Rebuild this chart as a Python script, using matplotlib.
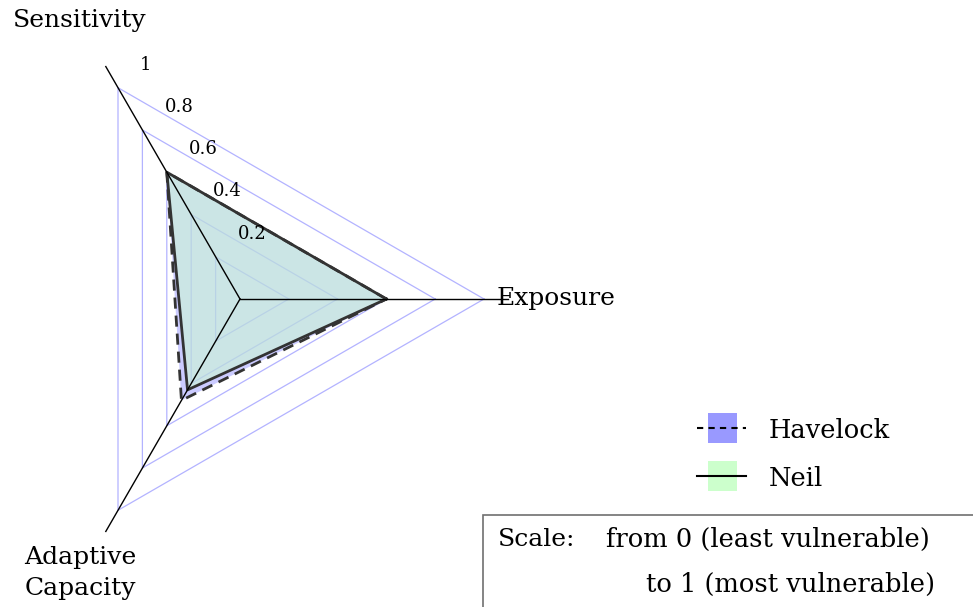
import numpy as np
import matplotlib
matplotlib.use("Agg")
import matplotlib.pyplot as plt
from matplotlib.patches import Rectangle
from matplotlib.lines import Line2D

# ---- data ----
axes_names = ["Exposure", "Sensitivity", "Adaptive\nCapacity"]
axis_angles_deg = [0, 120, 240]
havelock = [0.60, 0.60, 0.48]
neil = [0.60, 0.60, 0.43]
grid_levels = [0.2, 0.4, 0.6, 0.8, 1.0]
tick_labels = ["0.2", "0.4", "0.6", "0.8", "1"]

plt.rcParams["font.family"] = ["DejaVu Serif"]

W, H = 973, 607
fig = plt.figure(figsize=(W / 100, H / 100), dpi=100)
ax = fig.add_axes([0, 0, 1, 1])
cx, cy, scale = 240, 299, 244.0
ax.set_xlim(-cx / scale, (W - cx) / scale)
ax.set_ylim((cy - H) / scale, cy / scale)
ax.axis("off")

ang = np.deg2rad(axis_angles_deg)


def xy(vals):
    v = np.asarray(vals, dtype=float)
    x = v * np.cos(ang)
    y = v * np.sin(ang)
    return np.append(x, x[0]), np.append(y, y[0])


# grid triangles
grid_col = "#b3b3ff"
for lv in grid_levels:
    gx, gy = xy([lv] * 3)
    ax.plot(gx, gy, color=grid_col, lw=0.9, zorder=1)

# axis lines
for a in ang:
    ax.plot([0, 1.1 * np.cos(a)], [0, 1.1 * np.sin(a)], color="black", lw=1.0, zorder=4)

# data polygons
hx, hy = xy(havelock)
nx, ny = xy(neil)
ax.fill(hx, hy, color="#9999ff", alpha=0.5, lw=0, zorder=2)
ax.fill(nx, ny, color="#ccffcc", alpha=0.5, lw=0, zorder=2)
ax.plot(hx, hy, color="#333333", lw=2.0, ls=(0, (4, 2.5)), zorder=3)
ax.plot(nx, ny, color="#333333", lw=2.0, zorder=3)

# tick labels along sensitivity axis
sa = ang[1]
for lv, lab in zip(grid_levels, tick_labels):
    ax.annotate(lab, (lv * np.cos(sa), lv * np.sin(sa)), xytext=(22, 23),
                textcoords="offset pixels", ha="left", va="center", fontsize=13, zorder=5)

# axis labels
ax.annotate(axes_names[0], (1.0, 0), xytext=(13, 0), textcoords="offset pixels",
            ha="left", va="center", fontsize=18, xycoords="data")
fig.text(80 / W, 1 - 20 / H, axes_names[1], ha="center", va="center", fontsize=18)
fig.text(80 / W, 1 - 573 / H, axes_names[2], ha="center", va="center", fontsize=18,
         linespacing=1.45)

# legend (manual)
def fx(p):
    return p / W


def fy(p):
    return 1 - p / H


leg = [("Havelock", "#9999ff", (0, (3, 2.5)), 428),
       ("Neil", "#ccffcc", "-", 476)]
for name, col, ls, yc in leg:
    fig.add_artist(Rectangle((fx(708), fy(yc + 15)), fx(737) - fx(708), (30) / H,
                             transform=fig.transFigure, color=col, lw=0))
    fig.add_artist(Line2D([fx(697), fx(746)], [fy(yc), fy(yc)], transform=fig.transFigure,
                          color="black", lw=1.5, ls=ls))
    fig.text(fx(769), fy(yc + 2), name, ha="left", va="center", fontsize=18.5)

# scale box
fig.add_artist(Rectangle((fx(483), -0.05), 0.6, fy(515) + 0.05, transform=fig.transFigure,
                         fill=False, edgecolor="#707070", lw=1.2))
fig.text(fx(498), fy(539), "Scale:", ha="left", va="center", fontsize=18)
fig.text(fx(606), fy(539), "from 0 (least vulnerable)", ha="left", va="center", fontsize=18.5)
fig.text(fx(646), fy(584), "to 1 (most vulnerable)", ha="left", va="center", fontsize=18.5)

fig.savefig("out.png", dpi=100, facecolor="white")
